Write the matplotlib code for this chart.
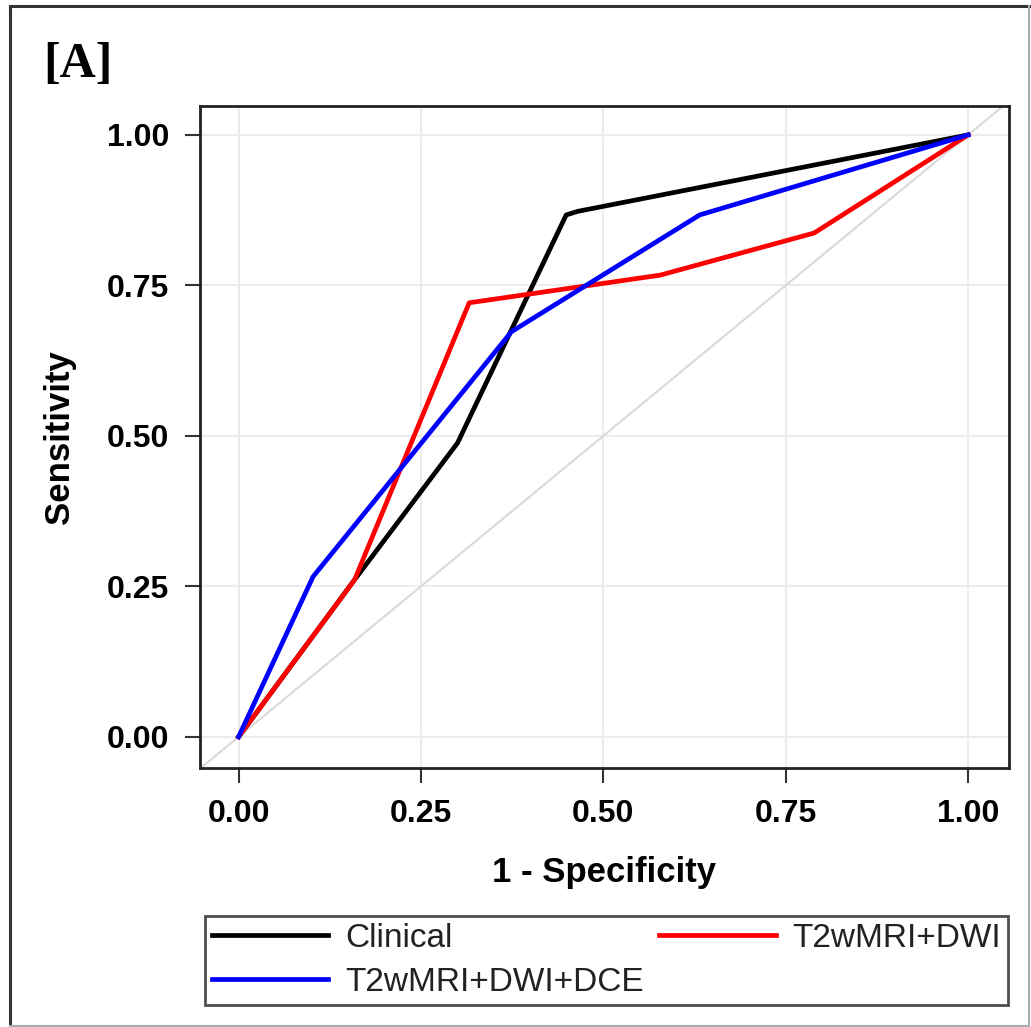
import matplotlib
matplotlib.use("Agg")
import matplotlib.pyplot as plt
from matplotlib.lines import Line2D

# ROC points
clin_fpr = [0.0, 0.159, 0.300, 0.449, 0.465, 1.0]
clin_tpr = [0.0, 0.261, 0.488, 0.867, 0.873, 1.0]

dwi_fpr = [0.0, 0.159, 0.316, 0.578, 0.789, 1.0]
dwi_tpr = [0.0, 0.261, 0.721, 0.767, 0.837, 1.0]

dce_fpr = [0.0, 0.102, 0.374, 0.632, 1.0]
dce_tpr = [0.0, 0.266, 0.673, 0.867, 1.0]

ticks = [0.0, 0.25, 0.50, 0.75, 1.0]
tick_labels = ["0.00", "0.25", "0.50", "0.75", "1.00"]

W, H = 1031, 1027
fig = plt.figure(figsize=(W / 100, H / 100), dpi=100)
ax = fig.add_axes([200 / W, 1 - 768 / H, (1009 - 200) / W, (768 - 106) / H])

sans = "Liberation Sans"

# grid + reference diagonal
for t in ticks:
    ax.axhline(t, color="#ececec", lw=1.5, zorder=0)
    ax.axvline(t, color="#ececec", lw=1.5, zorder=0)
ax.plot([-0.1, 1.1], [-0.1, 1.1], color="#d9d9d9", lw=1.5, zorder=1)

l1, = ax.plot(clin_fpr, clin_tpr, color="black", lw=3.4, zorder=3, label="Clinical")
l2, = ax.plot(dwi_fpr, dwi_tpr, color="#ff0000", lw=3.4, zorder=3, label="T2wMRI+DWI")
l3, = ax.plot(dce_fpr, dce_tpr, color="#0000ff", lw=3.4, zorder=4, label="T2wMRI+DWI+DCE")

ax.set_xlim(-0.053, 1.056)
ax.set_ylim(-0.052, 1.048)
ax.set_xticks(ticks)
ax.set_yticks(ticks)
ax.set_xticklabels(tick_labels, fontsize=23, fontweight="bold", family=sans)
ax.set_yticklabels(tick_labels, fontsize=23, fontweight="bold", family=sans)
ax.tick_params(length=11, width=1.5, color="#333333", pad=11)

for s in ax.spines.values():
    s.set_color("#222222")
    s.set_linewidth(2)

ax.set_xlabel("1 - Specificity", fontsize=25, fontweight="bold", family=sans, labelpad=20)
ax.set_ylabel("Sensitivity", fontsize=25, fontweight="bold", family=sans, labelpad=22)

# column-major fill: col 1 = Clinical, DCE ; col 2 = DWI
leg = fig.legend([l1, l3, l2], ["Clinical", "T2wMRI+DWI+DCE", "T2wMRI+DWI"],
                 ncol=2, mode="expand", loc="upper left",
                 bbox_to_anchor=(205 / W, 1 - 1005 / H, (1008 - 205) / W, (1005 - 916) / H),
                 prop={"family": sans, "size": 24},
                 frameon=True, fancybox=False, borderpad=0.2, labelspacing=0.4,
                 handlelength=3.5, handletextpad=0.5, columnspacing=1.0,
                 borderaxespad=0)
leg.get_frame().set_edgecolor("#222222")
leg.get_frame().set_linewidth(2)
for t in leg.get_texts():
    t.set_color("#222222")

fig.text(43 / W, 1 - 65 / H, "[A]", fontsize=36, fontweight="bold",
         family="Liberation Serif", ha="left", va="center")

# outer frame around the panel
fig.add_artist(Line2D([10 / W, 10 / W], [1 - 6 / H, 1 - 1026 / H], color="#333333", lw=2.2))
fig.add_artist(Line2D([10 / W, 1029 / W], [1 - 6 / H, 1 - 6 / H], color="#333333", lw=2.2))
fig.add_artist(Line2D([1029 / W, 1029 / W], [1 - 6 / H, 1 - 1026 / H], color="#aaaaaa", lw=1.5))
fig.add_artist(Line2D([10 / W, 1029 / W], [1 - 1026 / H, 1 - 1026 / H], color="#aaaaaa", lw=1.5))

fig.savefig("out.png", dpi=100, facecolor="white")
